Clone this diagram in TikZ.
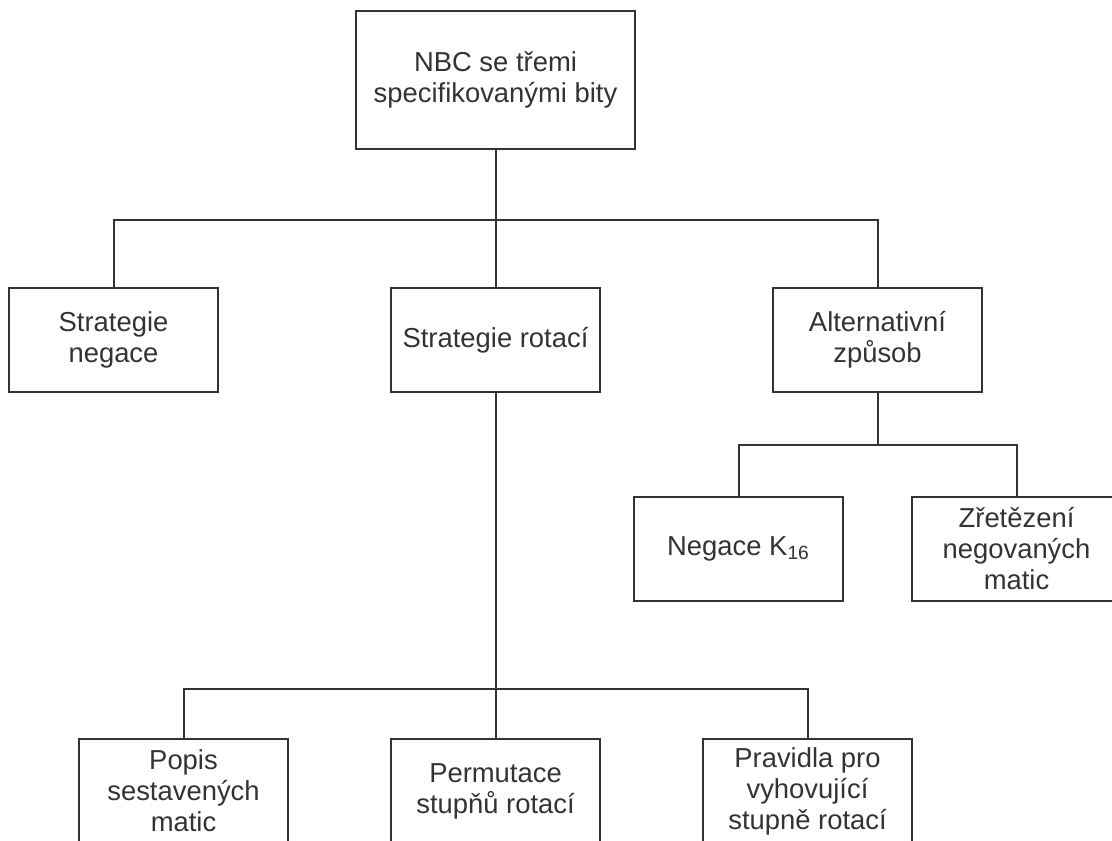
\documentclass[tikz,border=0pt]{standalone}
\usepackage{fontspec}
\setmainfont{Liberation Sans}
\usetikzlibrary{positioning}

\begin{document}
\begin{tikzpicture}[on grid,line width=1pt,color=black!80,font=\fontsize{13.7}{15.5}\selectfont,
		box/.style={draw,align=center,minimum width=104.5pt,minimum height=52pt,inner sep=0pt}]
		
		\useasboundingbox (0,0) rectangle (556pt,-420pt);
		
		\node (top) [box,minimum width=139.5pt,minimum height=69pt] at (247.75pt,-40pt) {NBC se třemi\\specifikovanými bity};
		\node (rot) [box,below=130pt of top] {Strategie rotací};
		\node (neg) [box,left=191pt of rot] {Strategie\\negace};
		\node (alt) [box,right=191pt of rot] {Alternativní\\způsob};
		\node (k16) [box,below left=104.5pt and 69.5pt of alt] {Negace K\textsubscript{16}};
		\node (zret) [box,below right=104.5pt and 69.5pt of alt] {Zřetězení\\negovaných\\matic};
		\node (perm) [box,below=225.5pt of rot] {Permutace\\stupňů rotací};
		\node (popis) [box,left=156pt of perm] {Popis\\sestavených\\matic};
		\node (prav) [box,right=156pt of perm] {Pravidla pro\\vyhovující\\stupně rotací};
		
		\coordinate [below=35pt of top.south] (b1);
		\coordinate [below=26pt of alt.south] (b2);
		\coordinate [below=148pt of rot.south] (b3);
		
		\draw (top) -- (rot);
		\draw (b1) -| (neg.north);
		\draw (b1) -| (alt.north);
		\draw (alt) -- (b2) -| (k16.north);
		\draw (b2) -| (zret.north);
		\draw (rot) -- (perm);
		\draw (b3) -| (popis.north);
		\draw (b3) -| (prav.north);
	\end{tikzpicture}
\end{document}
